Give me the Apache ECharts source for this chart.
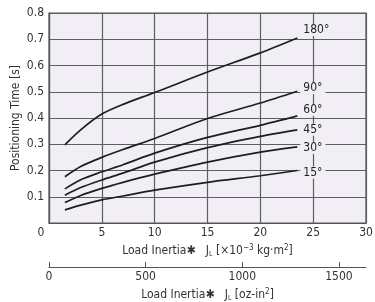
<!DOCTYPE html>
<html>
<head>
<meta charset="utf-8">
<script src="https://cdn.jsdelivr.net/npm/echarts@6/dist/echarts.min.js"></script>
<style>
  html, body { margin: 0; padding: 0; background: #fff; }
  #chart { width: 375px; height: 302px; }
</style>
</head>
<body>
<div id="chart"></div>
<script>
// data
var inertia = [1.5, 3, 5, 7, 10, 15, 20, 23.5];   // x10^-3 kg.m2
var angleNames = ['180°', '90°', '60°', '45°', '30°', '15°'];
var time180 = [0.298, 0.355, 0.415, 0.452, 0.497, 0.575, 0.648, 0.705];
var time90  = [0.176, 0.215, 0.250, 0.280, 0.322, 0.398, 0.457, 0.502];
var time60  = [0.130, 0.165, 0.195, 0.222, 0.266, 0.326, 0.372, 0.408];
var time45  = [0.106, 0.135, 0.164, 0.190, 0.232, 0.287, 0.330, 0.355];
var time30  = [0.078, 0.105, 0.132, 0.155, 0.186, 0.232, 0.270, 0.290];
var time15  = [0.050, 0.068, 0.088, 0.103, 0.125, 0.155, 0.180, 0.200];
var xTicks = [0, 5, 10, 15, 20, 25, 30];
var yTicks = [0.1, 0.2, 0.3, 0.4, 0.5, 0.6, 0.7, 0.8];
var ozTicks = [0, 500, 1000, 1500];
var ozPerUnit = 1 / 0.018290;   // 1 oz-in2 = 0.01829 x10^-3 kg.m2

var font = '"DejaVu Sans Condensed", "Liberation Sans Narrow", sans-serif';
var plotBg = '#f2eef5';
var gridColor = '#5e5e5e';
var allTimes = [time180, time90, time60, time45, time30, time15];
var labelShift = [-8, -3, -6, 0, 1, 2];

var chart = echarts.init(document.getElementById('chart'));

var series = allTimes.map(function (ys, i) {
  return {
    name: angleNames[i],
    type: 'line',
    data: inertia.map(function (x, k) { return [x, ys[k]]; }),
    smooth: 0.3,
    showSymbol: false,
    symbol: 'none',
    lineStyle: { color: '#1e1e1e', width: 1.7 },
    endLabel: {
      show: true,
      distance: 3,
      offset: [0, labelShift[i]],
      formatter: angleNames[i],
      fontFamily: font,
      fontSize: 12,
      color: '#222',
      backgroundColor: plotBg,
      padding: [0, 3]
    },
    z: 3
  };
});

var richName = {
  b: { fontFamily: font, fontSize: 12, fontWeight: 'bold', color: '#333' },
  sub: { fontFamily: font, fontSize: 7, color: '#333', verticalAlign: 'bottom', padding: [4, 0, 0, 0] },
  sup: { fontFamily: font, fontSize: 8, color: '#333', verticalAlign: 'top', padding: [0, 0, 6, 0] }
};

chart.setOption({
  animation: false,
  textStyle: { fontFamily: font },
  grid: {
    left: 49, right: 9, top: 13, bottom: 79,
    outerBoundsMode: 'none',
    containLabel: false,
    show: true,
    backgroundColor: plotBg,
    borderColor: '#555',
    borderWidth: 1.2
  },
  xAxis: [
    {
      type: 'value',
      min: 0, max: 30, interval: 5,
      axisLine: { show: true, lineStyle: { color: '#555', width: 1.2 } },
      axisTick: { show: false },
      splitLine: { show: true, lineStyle: { color: gridColor, width: 1.2 } },
      axisLabel: {
        margin: 4,
        fontSize: 12,
        color: '#333',
        customValues: xTicks,
        formatter: function (v) { return v === 0 ? '{z|0}' : String(v); },
        rich: { z: { fontSize: 12, color: '#333', padding: [0, 16, 0, 0] } }
      },
      name: 'Load Inertia{b|✱}   J{sub|L} [×10{sup|−3} kg·m{sup|2}]',
      nameLocation: 'middle',
      nameGap: 20,
      nameTextStyle: { fontSize: 12, color: '#333', rich: richName }
    },
    {
      type: 'value',
      position: 'bottom',
      offset: 44,
      min: 0, max: 30 * ozPerUnit,
      axisLine: { show: true, lineStyle: { color: '#555', width: 1.2 } },
      axisTick: { show: true, inside: true, length: 5, customValues: ozTicks, lineStyle: { color: '#555' } },
      splitLine: { show: false },
      axisLabel: {
        margin: 4, fontSize: 12, color: '#333', customValues: ozTicks,
        formatter: function (v) { return String(v); }
      },
      name: 'Load Inertia{b|✱}   J{sub|L} [oz-in{sup|2}]',
      nameLocation: 'middle',
      nameGap: 20,
      nameTextStyle: { fontSize: 12, color: '#333', rich: richName }
    }
  ],
  yAxis: {
    type: 'value',
    min: 0, max: 0.8, interval: 0.1,
    axisLine: { show: true, lineStyle: { color: '#555', width: 1.2 } },
    axisTick: { show: false },
    splitLine: { show: true, lineStyle: { color: gridColor, width: 1.2 } },
    axisLabel: {
      margin: 5,
      fontSize: 12,
      color: '#333',
      customValues: yTicks,
      formatter: function (v) { return v.toFixed(1); }
    },
    name: 'Positioning Time [s]',
    nameLocation: 'middle',
    nameGap: 27,
    nameMoveOverlap: false,
    nameTextStyle: { fontSize: 12, color: '#333' }
  },
  series: series
});
</script>
</body>
</html>
